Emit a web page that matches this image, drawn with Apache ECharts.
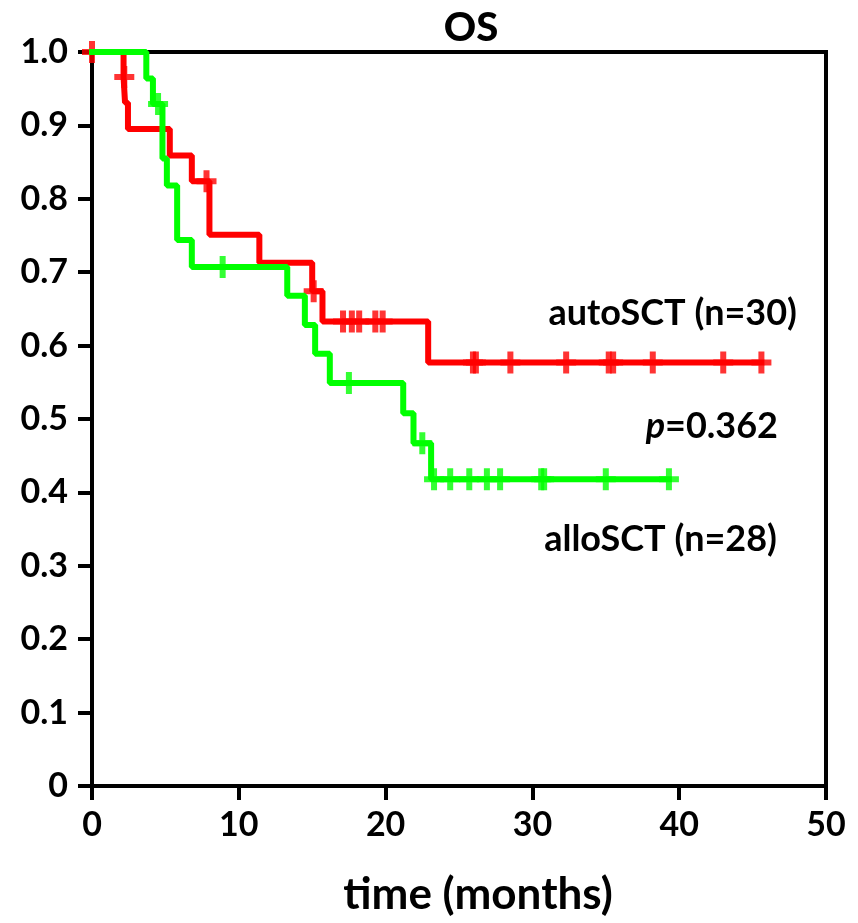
<!DOCTYPE html>
<html>
<head>
<meta charset="utf-8">
<script src="https://cdn.jsdelivr.net/npm/echarts@6/dist/echarts.min.js"></script>
<style>
html,body{margin:0;padding:0;background:#fff;}
#chart{width:858px;height:923px;}
</style>
</head>
<body>
<div id="chart"></div>
<script>
// ---- data ----
const chartTitle = 'OS';
const xAxisTitle = 'time (months)';
const xTicks = [0, 10, 20, 30, 40, 50];
const yTicks = [0, 0.1, 0.2, 0.3, 0.4, 0.5, 0.6, 0.7, 0.8, 0.9, 1.0];

const autoName = 'autoSCT (n=30)';
const autoEventTimes = [2.15, 2.25, 2.45, 5.3, 6.8, 8.0, 11.4, 15.0, 15.7, 22.9];
const autoEventSurv  = [0.966, 0.931, 0.895, 0.859, 0.824, 0.751, 0.713, 0.674, 0.633, 0.577];
const autoCensorTimes = [0, 2.2, 7.8, 15.1, 17.1, 17.7, 18.2, 19.3, 19.8, 25.95, 26.15, 28.5, 32.3, 35.2, 35.5, 38.2, 43.0, 45.6];

const alloName = 'alloSCT (n=28)';
const alloEventTimes = [3.7, 4.15, 4.8, 5.1, 5.8, 6.8, 13.3, 14.5, 15.2, 16.2, 21.2, 21.9, 23.1];
const alloEventSurv  = [0.964, 0.929, 0.855, 0.818, 0.744, 0.707, 0.668, 0.628, 0.589, 0.549, 0.508, 0.467, 0.418];
const alloCensorTimes = [4.5, 8.9, 17.5, 22.5, 23.3, 24.4, 25.7, 26.9, 27.8, 30.6, 30.8, 35.0, 39.3];

const pValueText = '0.362';

// ---- helpers ----
function survAt(times, surv, t) {
  let s = 1;
  for (let i = 0; i < times.length; i++) { if (times[i] <= t) s = surv[i]; }
  return s;
}
function curve(times, surv, censors) {
  const d = [[0, 1]];
  for (let i = 0; i < times.length; i++) d.push([times[i], surv[i]]);
  const end = Math.max(times[times.length - 1], censors[censors.length - 1]);
  d.push([end, surv[surv.length - 1]]);
  return d;
}
function censorPts(times, surv, censors) {
  return censors.map(t => [t, survAt(times, surv, t)]);
}

const RED = '#ff0000', GREEN = '#00ff00';
const FONT = 'Lato';
const plusPath = 'path://M7,0 h6 v8 h7 v6 h-7 v8 h-6 v-8 h-7 v-6 h7 z';

const chart = echarts.init(document.getElementById('chart'));
chart.setOption({
  animation: false,
  backgroundColor: '#fff',
  title: {
    text: chartTitle, left: 466, top: 3, textAlign: 'center',
    textStyle: { fontFamily: FONT, fontWeight: 900, fontSize: 40, color: '#000' }
  },
  grid: { left: 92, right: 32, top: 52, bottom: 137, show: true, borderColor: '#000', borderWidth: 4, backgroundColor: 'transparent' },
  xAxis: {
    type: 'value', min: xTicks[0], max: xTicks[xTicks.length - 1], interval: 10,
    axisLine: { show: true, lineStyle: { color: '#000', width: 4 } },
    axisTick: { show: true, inside: false, length: 14, lineStyle: { color: '#000', width: 4 } },
    splitLine: { show: false },
    axisLabel: { margin: 22, fontFamily: FONT, fontWeight: 'bold', fontSize: 34, color: '#000' }
  },
  yAxis: {
    type: 'value', min: yTicks[0], max: yTicks[yTicks.length - 1], interval: 0.1,
    axisLine: { show: true, lineStyle: { color: '#000', width: 4 } },
    axisTick: { show: true, inside: false, length: 14, lineStyle: { color: '#000', width: 4 } },
    splitLine: { show: false },
    axisLabel: {
      margin: 24, fontFamily: FONT, fontWeight: 'bold', fontSize: 34, color: '#000',
      formatter: v => (v === 0 ? '0' : v.toFixed(1))
    }
  },
  graphic: [
    { type: 'text', x: 797, y: 313, style: { text: autoName, align: 'right', verticalAlign: 'middle', font: 'bold 36px ' + FONT, fill: '#000' } },
    { type: 'text', x: 778, y: 426, style: {
        text: '{i|p}{n|=' + pValueText + '}', align: 'right', verticalAlign: 'middle',
        rich: {
          i: { fontFamily: FONT, fontWeight: 'bold', fontStyle: 'italic', fontSize: 36, fill: '#000' },
          n: { fontFamily: FONT, fontWeight: 'bold', fontSize: 36, fill: '#000' }
        } } },
    { type: 'text', x: 777, y: 539, style: { text: alloName, align: 'right', verticalAlign: 'middle', font: 'bold 36px ' + FONT, fill: '#000' } },
    { type: 'text', x: 478, y: 895, style: { text: xAxisTitle, align: 'center', verticalAlign: 'middle', font: 'bold 44px ' + FONT, fill: '#000' } }
  ],
  series: [
    { name: autoName, type: 'line', step: 'end', showSymbol: false, z: 3,
      data: curve(autoEventTimes, autoEventSurv, autoCensorTimes),
      lineStyle: { color: RED, width: 6, cap: 'square' } },
    { name: alloName, type: 'line', step: 'end', showSymbol: false, z: 4,
      data: curve(alloEventTimes, alloEventSurv, alloCensorTimes),
      lineStyle: { color: GREEN, width: 6, cap: 'square' } },
    { type: 'scatter', symbol: plusPath, symbolSize: [20, 22], z: 3,
      itemStyle: { color: RED }, data: censorPts(autoEventTimes, autoEventSurv, autoCensorTimes) },
    { type: 'scatter', symbol: plusPath, symbolSize: [20, 22], z: 4,
      itemStyle: { color: GREEN }, data: censorPts(alloEventTimes, alloEventSurv, alloCensorTimes) }
  ]
});
</script>
</body>
</html>
